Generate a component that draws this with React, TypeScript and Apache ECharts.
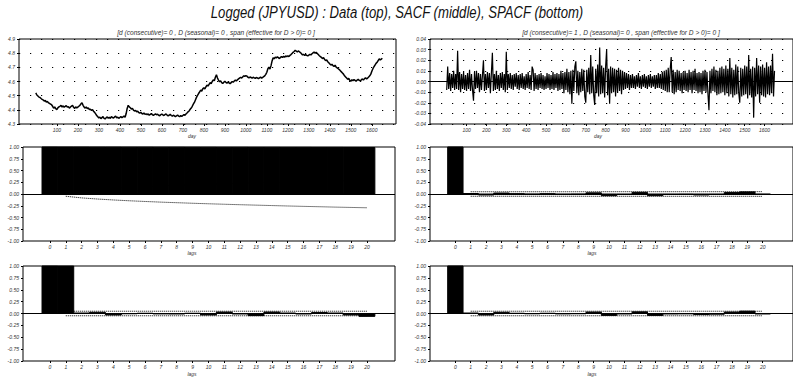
import React, { useEffect, useRef } from "react";
import * as echarts from "echarts";

// Sampling step (days) of the two daily series below
const DAY_STEP = 5;

// log(JPY/USD), one value every DAY_STEP days
const LOG_JPYUSD = [
  4.520, 4.505, 4.498, 4.490, 4.487, 4.480, 4.474, 4.470, 4.462, 4.466, 4.455, 4.459, 4.450, 4.446, 4.441, 4.436, 4.425, 4.412, 4.420, 4.408,
  4.402, 4.414, 4.421, 4.425, 4.432, 4.420, 4.428, 4.418, 4.424, 4.430, 4.419, 4.423, 4.412, 4.420, 4.426, 4.431, 4.418, 4.410, 4.421, 4.413,
  4.419, 4.425, 4.431, 4.442, 4.450, 4.432, 4.420, 4.412, 4.421, 4.409, 4.414, 4.402, 4.405, 4.396, 4.401, 4.390, 4.382, 4.371, 4.360, 4.352,
  4.342, 4.349, 4.338, 4.345, 4.352, 4.340, 4.336, 4.344, 4.350, 4.341, 4.347, 4.339, 4.352, 4.346, 4.342, 4.350, 4.355, 4.343, 4.348, 4.340,
  4.346, 4.352, 4.344, 4.350, 4.357, 4.348, 4.372, 4.410, 4.432, 4.421, 4.415, 4.406, 4.410, 4.398, 4.392, 4.396, 4.386, 4.390, 4.381, 4.377,
  4.382, 4.374, 4.370, 4.378, 4.368, 4.372, 4.365, 4.371, 4.362, 4.368, 4.373, 4.366, 4.360, 4.367, 4.372, 4.365, 4.369, 4.362, 4.358, 4.366,
  4.370, 4.364, 4.360, 4.366, 4.371, 4.363, 4.358, 4.362, 4.368, 4.360, 4.355, 4.362, 4.357, 4.351, 4.358, 4.363, 4.356, 4.352, 4.359, 4.354,
  4.360, 4.366, 4.362, 4.371, 4.378, 4.386, 4.392, 4.404, 4.413, 4.425, 4.440, 4.452, 4.470, 4.488, 4.502, 4.515, 4.526, 4.540, 4.532, 4.548,
  4.556, 4.548, 4.562, 4.575, 4.568, 4.580, 4.592, 4.585, 4.600, 4.612, 4.605, 4.630, 4.648, 4.625, 4.610, 4.598, 4.604, 4.592, 4.586, 4.595,
  4.602, 4.594, 4.588, 4.596, 4.590, 4.584, 4.592, 4.600, 4.595, 4.603, 4.610, 4.604, 4.612, 4.618, 4.624, 4.630, 4.624, 4.632, 4.640, 4.636,
  4.642, 4.638, 4.630, 4.626, 4.632, 4.628, 4.624, 4.630, 4.626, 4.622, 4.628, 4.625, 4.620, 4.626, 4.631, 4.624, 4.628, 4.634, 4.640, 4.650,
  4.665, 4.690, 4.702, 4.688, 4.712, 4.745, 4.768, 4.760, 4.772, 4.766, 4.774, 4.768, 4.762, 4.770, 4.776, 4.770, 4.778, 4.772, 4.780, 4.776,
  4.782, 4.776, 4.784, 4.790, 4.798, 4.806, 4.812, 4.820, 4.815, 4.808, 4.816, 4.810, 4.804, 4.796, 4.788, 4.792, 4.784, 4.790, 4.785, 4.780,
  4.786, 4.792, 4.788, 4.796, 4.802, 4.808, 4.800, 4.806, 4.798, 4.790, 4.782, 4.776, 4.770, 4.762, 4.768, 4.756, 4.748, 4.752, 4.740, 4.732,
  4.724, 4.716, 4.722, 4.712, 4.706, 4.715, 4.702, 4.696, 4.690, 4.684, 4.676, 4.668, 4.660, 4.652, 4.640, 4.632, 4.624, 4.615, 4.622, 4.608,
  4.602, 4.612, 4.606, 4.614, 4.608, 4.602, 4.610, 4.616, 4.608, 4.604, 4.612, 4.618, 4.610, 4.620, 4.626, 4.618, 4.624, 4.632, 4.640, 4.652,
  4.672, 4.690, 4.704, 4.716, 4.728, 4.736, 4.748, 4.760, 4.752, 4.758, 4.764,
];

// first difference of log(JPY/USD), one value every DAY_STEP days
const DIFF_LOG_JPYUSD = [
  -0.008, 0.014, -0.007, 0.008, -0.009, 0.007, -0.006, 0.010, -0.008, 0.007, -0.007, 0.029, -0.008, 0.009, -0.010, 0.007, -0.007, 0.009, -0.008, 0.006,
  -0.009, 0.008, -0.007, 0.011, -0.009, 0.007, -0.008, -0.018, 0.009, -0.007, 0.010, -0.006, 0.008, -0.010, 0.007, -0.008, 0.006, 0.020, -0.009, 0.007,
  -0.008, 0.009, -0.006, 0.008, -0.011, 0.008, 0.027, -0.009, 0.007, -0.008, 0.010, -0.007, 0.006, -0.009, 0.008, -0.006, 0.009, -0.008, 0.007, -0.010,
  0.028, -0.008, 0.007, -0.006, 0.008, -0.007, 0.006, -0.008, 0.007, -0.005, 0.008, -0.007, 0.006, -0.008, 0.007, -0.006, 0.008, -0.007, 0.005, -0.008,
  0.007, -0.006, 0.009, -0.007, 0.006, -0.008, 0.014, 0.011, -0.009, 0.008, -0.007, 0.006, -0.008, 0.007, -0.006, 0.008, -0.007, 0.006, -0.008, 0.005,
  -0.007, 0.008, -0.006, 0.007, -0.008, 0.006, -0.007, 0.009, -0.008, 0.007, -0.006, 0.008, -0.009, 0.007, -0.008, 0.010, -0.007, 0.008, -0.011, 0.009,
  -0.008, 0.012, -0.010, 0.009, -0.012, 0.010, -0.021, 0.011, -0.009, 0.014, 0.019, -0.011, 0.010, -0.013, 0.009, -0.010, 0.012, -0.009, 0.011, -0.014,
  -0.020, 0.011, -0.010, 0.013, -0.012, 0.025, -0.011, 0.014, -0.013, -0.022, 0.012, -0.011, 0.016, -0.014, 0.032, -0.012, 0.015, -0.011, 0.013, -0.015,
  0.014, 0.030, -0.013, 0.012, -0.021, 0.014, -0.011, 0.013, -0.010, 0.012, -0.014, 0.011, -0.010, 0.013, -0.009, 0.011, -0.012, 0.010, -0.008, 0.009,
  -0.007, 0.008, -0.006, 0.007, -0.008, 0.006, -0.006, 0.007, -0.006, 0.005, -0.007, 0.006, -0.005, 0.008, -0.006, 0.005, -0.007, 0.006, -0.005, 0.007,
  -0.006, 0.005, -0.007, 0.006, -0.005, 0.007, -0.006, 0.005, -0.005, 0.006, -0.007, 0.006, -0.006, 0.008, -0.006, 0.007, -0.007, 0.009, -0.008, 0.010,
  -0.009, 0.011, -0.010, 0.013, -0.010, 0.012, 0.023, -0.010, 0.011, -0.012, 0.009, -0.010, 0.011, -0.008, 0.010, -0.009, 0.008, -0.011, 0.009, -0.008,
  0.010, -0.009, 0.008, -0.010, 0.011, -0.008, 0.009, -0.011, 0.010, -0.008, 0.012, -0.009, 0.008, -0.011, 0.009, -0.010, 0.008, -0.012, 0.010, -0.009,
  0.011, -0.010, 0.009, -0.012, -0.027, 0.010, -0.011, 0.012, -0.009, 0.014, -0.010, 0.011, -0.013, 0.010, -0.012, 0.013, -0.011, 0.014, -0.010, 0.012,
  -0.013, 0.015, -0.011, 0.012, -0.014, 0.022, -0.012, 0.013, -0.015, 0.011, -0.013, 0.016, -0.012, 0.014, -0.011, -0.020, 0.013, -0.014, 0.012, -0.013,
  0.015, -0.012, 0.014, -0.016, 0.025, -0.013, 0.012, -0.015, 0.014, -0.034, 0.013, -0.014, 0.022, -0.012, 0.015, -0.020, 0.014, -0.013, 0.016, -0.014,
  0.013, -0.015, 0.018, -0.012, 0.014, -0.013, 0.015, -0.011, 0.026, -0.014, 0.010,
];

const DAY_TICKS = [100, 200, 300, 400, 500, 600, 700, 800, 900, 1000, 1100, 1200, 1300, 1400, 1500, 1600];
const LAGS = [0, 1, 2, 3, 4, 5, 6, 7, 8, 9, 10, 11, 12, 13, 14, 15, 16, 17, 18, 19, 20];

// sample ACF / PACF, lags 0..20
const SACF_LEVEL = [1.0, 0.999, 0.999, 0.998, 0.998, 0.997, 0.997, 0.996, 0.996, 0.995, 0.995, 0.994, 0.994, 0.993, 0.993, 0.992, 0.992, 0.991, 0.991, 0.99, 0.99];
const SACF_DIFF = [1.0, 0.01, -0.02, 0.02, 0.005, -0.005, 0.005, -0.008, -0.005, 0.025, -0.035, -0.01, 0.035, -0.035, -0.01, -0.008, -0.02, -0.01, 0.03, 0.045, -0.008];
const SPACF_LEVEL = [1.0, 0.998, 0.01, 0.025, -0.03, -0.005, 0.005, -0.008, -0.01, 0.005, -0.03, 0.03, -0.01, -0.045, 0.03, 0.01, -0.01, 0.02, 0.01, -0.03, -0.06];
const SPACF_DIFF = [1.0, 0.01, -0.03, 0.025, 0.005, -0.005, 0.005, -0.008, -0.005, 0.03, -0.04, -0.01, 0.035, -0.04, -0.01, -0.008, -0.02, -0.015, 0.03, 0.05, -0.01];

// two-standard-error bands, lags 1..20
const SACF_LEVEL_BAND = [0.048, 0.083, 0.107, 0.127, 0.144, 0.159, 0.173, 0.185, 0.197, 0.208, 0.218, 0.228, 0.237, 0.246, 0.255, 0.263, 0.271, 0.279, 0.286, 0.293];
const SACF_DIFF_BAND = [0.048, 0.048, 0.048, 0.048, 0.048, 0.048, 0.048, 0.048, 0.049, 0.049, 0.049, 0.049, 0.049, 0.049, 0.049, 0.049, 0.049, 0.049, 0.049, 0.05];
const SPACF_BAND = [0.048, 0.048, 0.048, 0.048, 0.048, 0.048, 0.048, 0.048, 0.048, 0.048, 0.048, 0.048, 0.048, 0.048, 0.048, 0.048, 0.048, 0.048, 0.048, 0.048];

const TITLE = "Logged (JPYUSD) : Data (top), SACF (middle), SPACF (bottom)";
const SUBTITLE_LEVEL = "[d (consecutive)= 0 , D (seasonal)= 0 , span (effective for D > 0)= 0 ]";
const SUBTITLE_DIFF = "[d (consecutive)= 1 , D (seasonal)= 0 , span (effective for D > 0)= 0 ]";

const FONT = '"Liberation Sans", Arial, sans-serif';
const INK = "#000";
const LABEL_INK = "#333";
// horizontal squeeze that gives the narrow italic lettering
const NARROW = 0.82;

const GRIDS = [
  { left: 19, top: 39, width: 377, height: 85 },
  { left: 430, top: 39, width: 370, height: 85 },
  { left: 23, top: 147, width: 372, height: 94 },
  { left: 430, top: 147, width: 372, height: 94 },
  { left: 23, top: 266, width: 372, height: 95 },
  { left: 430, top: 266, width: 372, height: 95 },
];

const smallLabel = {
  fontSize: 5,
  fontStyle: "italic" as const,
  fontFamily: FONT,
  color: LABEL_INK,
};

function xValueAxis(gridIndex: number, min: number, max: number, ticks: number[]) {
  return {
    type: "value",
    gridIndex,
    min,
    max,
    axisLine: { show: false, onZero: false },
    splitLine: { show: false },
    axisTick: { show: true, customValues: ticks, length: 2, lineStyle: { color: INK } },
    axisLabel: { ...smallLabel, customValues: ticks, margin: 3, formatter: (v: number) => String(v) },
  };
}

function yValueAxis(gridIndex: number, min: number, max: number, interval: number, digits: number, dotted: boolean) {
  return {
    type: "value",
    gridIndex,
    min,
    max,
    interval,
    axisLine: { show: false, onZero: false },
    axisTick: { show: true, length: 2, lineStyle: { color: INK } },
    axisLabel: { ...smallLabel, margin: 4, formatter: (v: number) => v.toFixed(digits) },
    splitLine: dotted
      ? { show: true, lineStyle: { type: [1.2, 9.8], color: INK, width: 1.2 } }
      : { show: false },
  };
}

const zeroLine = {
  silent: true,
  symbol: "none",
  label: { show: false },
  lineStyle: { color: INK, width: 1, type: "solid" },
  data: [{ yAxis: 0 }],
};

function correlogramBars(index: number, values: number[]) {
  return {
    type: "custom",
    xAxisIndex: index,
    yAxisIndex: index,
    z: 3,
    silent: true,
    data: values.map((v, i) => [LAGS[i], v]),
    encode: { x: 0, y: 1 },
    renderItem: (_params: any, api: any) => {
      const lag = api.value(0);
      const v = api.value(1);
      const a = api.coord([lag - 0.5, 0]);
      const b = api.coord([lag + 0.5, v]);
      return {
        type: "rect",
        shape: {
          x: a[0],
          y: Math.min(a[1], b[1]),
          width: b[0] - a[0],
          height: Math.abs(b[1] - a[1]),
        },
        style: { fill: INK, stroke: INK, lineWidth: 1 },
      };
    },
    markLine: zeroLine,
  };
}

function bandLine(index: number, band: number[], sign: number) {
  return {
    type: "line",
    xAxisIndex: index,
    yAxisIndex: index,
    symbol: "none",
    silent: true,
    z: 2,
    data: band.map((b, i) => [LAGS[i + 1], sign * b]),
    lineStyle: { type: "dotted", width: 1, color: INK },
  };
}

function text(x: number, y: number, content: string, size: number, color: string) {
  return {
    type: "text",
    x,
    y,
    scaleX: NARROW,
    silent: true,
    style: {
      text: content,
      font: `italic ${size}px ${FONT}`,
      fill: color,
      align: "center",
      verticalAlign: "middle",
      textAlign: "center",
      textVerticalAlign: "middle",
    },
  };
}

export default function App() {
  const ref = useRef<HTMLDivElement>(null);

  useEffect(() => {
    if (!ref.current) return;
    const chart = echarts.init(ref.current, undefined, { renderer: "svg" });

    const lagMinL = -1.7;
    const lagMaxL = 21.77;
    const lagMinR = -1.65;
    const lagMaxR = 21.97;

    chart.setOption({
      animation: false,
      backgroundColor: "#fff",
      grid: GRIDS.map((g) => ({ ...g, show: true, borderColor: INK, borderWidth: 1, containLabel: false })),
      xAxis: [
        xValueAxis(0, -80, 1715, DAY_TICKS),
        xValueAxis(1, -84, 1743, DAY_TICKS),
        xValueAxis(2, lagMinL, lagMaxL, LAGS),
        xValueAxis(3, lagMinR, lagMaxR, LAGS),
        xValueAxis(4, lagMinL, lagMaxL, LAGS),
        xValueAxis(5, lagMinR, lagMaxR, LAGS),
      ],
      yAxis: [
        yValueAxis(0, 4.3, 4.9, 0.1, 1, true),
        yValueAxis(1, -0.04, 0.04, 0.01, 2, true),
        yValueAxis(2, -1, 1, 0.25, 2, false),
        yValueAxis(3, -1, 1, 0.25, 2, false),
        yValueAxis(4, -1, 1, 0.25, 2, false),
        yValueAxis(5, -1, 1, 0.25, 2, false),
      ],
      series: [
        {
          type: "line",
          xAxisIndex: 0,
          yAxisIndex: 0,
          symbol: "none",
          silent: true,
          data: LOG_JPYUSD.map((v, i) => [i * DAY_STEP, v]),
          lineStyle: { color: INK, width: 1.5 },
        },
        {
          type: "line",
          xAxisIndex: 1,
          yAxisIndex: 1,
          symbol: "none",
          silent: true,
          data: DIFF_LOG_JPYUSD.map((v, i) => [i * DAY_STEP, v]),
          lineStyle: { color: INK, width: 1.2 },
          markLine: zeroLine,
        },
        bandLine(2, SACF_LEVEL_BAND, 1),
        bandLine(2, SACF_LEVEL_BAND, -1),
        correlogramBars(2, SACF_LEVEL),
        bandLine(3, SACF_DIFF_BAND, 1),
        bandLine(3, SACF_DIFF_BAND, -1),
        correlogramBars(3, SACF_DIFF),
        bandLine(4, SPACF_BAND, 1),
        bandLine(4, SPACF_BAND, -1),
        correlogramBars(4, SPACF_LEVEL),
        bandLine(5, SPACF_BAND, 1),
        bandLine(5, SPACF_BAND, -1),
        correlogramBars(5, SPACF_DIFF),
      ],
      graphic: [
        text(397, 13, TITLE, 16, "#111"),
        text(216, 32, SUBTITLE_LEVEL, 8, LABEL_INK),
        text(621, 32, SUBTITLE_DIFF, 8, LABEL_INK),
        text(192, 136, "day", 6, LABEL_INK),
        text(598, 136, "day", 6, LABEL_INK),
        text(192, 253, "lags", 6, LABEL_INK),
        text(592, 253, "lags", 6, LABEL_INK),
        text(192, 374, "lags", 6, LABEL_INK),
        text(592, 374, "lags", 6, LABEL_INK),
      ],
    });

    return () => chart.dispose();
  }, []);

  return (
    <div
      ref={ref}
      style={{ position: "fixed", left: 0, top: 0, width: 793, height: 377, background: "#fff" }}
    />
  );
}
